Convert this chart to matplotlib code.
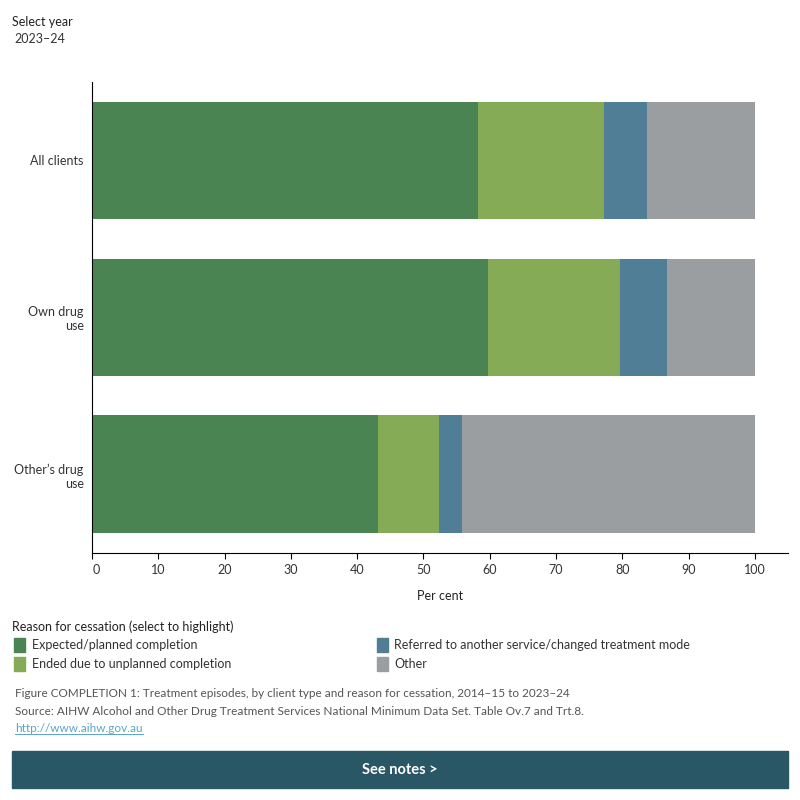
import matplotlib.pyplot as plt
import matplotlib.patches as mpatches
import matplotlib.transforms as mtransforms
import numpy as np

plt.rcParams['font.family'] = ['Lato', 'DejaVu Sans']

# ----------- data -----------
clients = ['All clients', 'Own drug\nuse', "Other\u2019s drug\nuse"]
reasons = ['Expected/planned completion', 'Ended due to unplanned completion',
           'Referred to another service/changed treatment mode', 'Other']
expected = [58.3, 59.8, 43.2]
unplanned = [18.9, 19.8, 9.1]
referred = [6.6, 7.1, 3.5]
other = [16.2, 13.3, 44.2]
colors = ['#4b8453', '#86ab56', '#4f7e96', '#9b9ea0']
xticks = [0, 10, 20, 30, 40, 50, 60, 70, 80, 90, 100]

fig = plt.figure(figsize=(8, 8), dpi=100)
ax = fig.add_axes([0.115, 0.309, 0.87, 0.5885])

y = np.arange(len(clients))
left = np.zeros(len(clients))
for vals, col, lab in zip([expected, unplanned, referred, other], colors, reasons):
    ax.barh(y, vals, left=left, height=0.75, color=col, label=lab)
    left += np.array(vals)

ax.set_ylim(2.5, -0.5)
ax.set_xlim(0, 105)
ax.set_yticks(y)
ax.set_yticklabels(clients, fontsize=9, color='#333333', multialignment='right')
ax.set_xticks(xticks)
ax.set_xticklabels([str(t) for t in xticks], fontsize=9, color='#333333')
ax.tick_params(axis='y', length=0, pad=6)
ax.tick_params(axis='x', length=4, width=0.8, pad=4)
# first label sits just right of the axis, as in the original
first = ax.get_xticklabels()[0]
first.set_transform(first.get_transform() +
                    mtransforms.ScaledTranslation(4 / 100, 0, fig.dpi_scale_trans))
ax.spines['top'].set_visible(False)
ax.spines['right'].set_visible(False)
ax.spines['left'].set_color('black')
ax.spines['bottom'].set_color('black')
ax.set_xlabel('Per cent', fontsize=9, color='#222222', labelpad=10)

# year selector
fig.text(0.015, 0.972, 'Select year', fontsize=9, color='#222222', va='center')
fig.text(0.018, 0.951, '2023\u201324', fontsize=9, color='#333333', va='center')

# legend
fig.text(0.015, 0.216, 'Reason for cessation (select to highlight)', fontsize=9,
         color='#222222', va='center')
leg_pos = [(0.018, 0.194), (0.018, 0.170), (0.471, 0.194), (0.471, 0.170)]
for (lx, ly), col, lab in zip(leg_pos, colors, reasons):
    fig.patches.append(mpatches.Rectangle((lx, ly - 0.0085), 0.0135, 0.017,
                                          transform=fig.transFigure, color=col))
    fig.text(lx + 0.022, ly, lab, fontsize=9, color='#333333', va='center')

# footer
fig.text(0.019, 0.133, 'Figure COMPLETION 1: Treatment episodes, by client type and reason '
         'for cessation, 2014\u201315 to 2023\u201324', fontsize=8.5, color='#555555', va='center')
fig.text(0.019, 0.111, 'Source: AIHW Alcohol and Other Drug Treatment Services National '
         'Minimum Data Set. Table Ov.7 and Trt.8.', fontsize=8.5, color='#555555', va='center')
url = fig.text(0.019, 0.089, 'http://www.aihw.gov.au', fontsize=8.5, color='#5aa5c8',
               va='center')
fig.canvas.draw()
bb = url.get_window_extent().transformed(fig.transFigure.inverted())
fig.add_artist(plt.Line2D([bb.x0, bb.x1], [bb.y0 + 0.001, bb.y0 + 0.001],
                          color='#5aa5c8', linewidth=0.7, transform=fig.transFigure))

fig.patches.append(mpatches.Rectangle((0.015, 0.015), 0.97, 0.046,
                                      transform=fig.transFigure, color='#2a5766'))
fig.text(0.5, 0.038, 'See notes >', fontsize=10.5, color='white', fontweight='bold',
         ha='center', va='center')

fig.savefig('out.png', dpi=100)
